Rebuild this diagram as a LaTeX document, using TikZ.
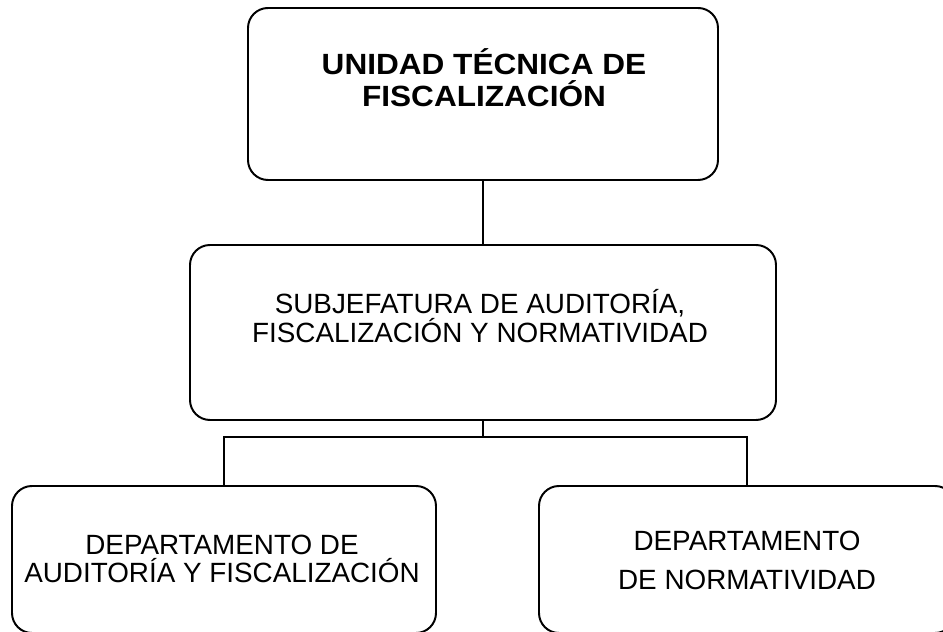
\documentclass[tikz,border=0pt]{standalone}
\usepackage{fontspec}
\setmainfont{Liberation Sans}
\newfontfamily\widefont[FakeStretch=1.08]{Liberation Sans}
\usetikzlibrary{positioning}

\begin{document}
\begin{tikzpicture}
\tikzset{unitbox/.style={draw=black,line width=1.4pt,rounded corners=0.5cm},
  unittext/.style={align=center,anchor=base,inner sep=0pt}}
\useasboundingbox (0,0) rectangle (23.575,15.8);
% boxes
\node[unitbox,minimum width=11.75cm,minimum height=4.3cm] (utf) at (12.075,13.45) {};
\node[unitbox,minimum width=14.65cm,minimum height=4.375cm] (sub) at (12.075,7.4875) {};
\node[unitbox,minimum width=10.6cm,minimum height=3.675cm] (daf) at (5.6,1.8125) {};
\node[unitbox,minimum width=10.4cm,minimum height=3.675cm] (dn) at (18.675,1.8125) {};
% texts
\node[unittext,font=\widefont\fontsize{20.8}{23.4}\selectfont\bfseries] (utftext) at (12.1,13.125) {UNIDAD TÉCNICA DE\\FISCALIZACIÓN};
\node[unittext,font=\fontsize{19.8}{21.3}\selectfont] (subtext) at (12.0,7.225) {SUBJEFATURA DE AUDITORÍA,\\FISCALIZACIÓN Y NORMATIVIDAD};
\node[unittext,font=\fontsize{19.8}{20.6}\selectfont] (daftext) at (5.55,1.225) {DEPARTAMENTO DE\\AUDITORÍA Y FISCALIZACIÓN};
\node[unittext,font=\fontsize{19.8}{28.4}\selectfont] (dntext) at (18.675,1.05) {DEPARTAMENTO\\DE NORMATIVIDAD};

\coordinate (bar) at (12.075,4.875);
\draw[line width=1.4pt] (utf.south) -- (sub.north);
\draw[line width=1.4pt] (sub.south) -- (bar);
\draw[line width=1.4pt] (daf.north) |- (bar) -| (dn.north);

\end{tikzpicture}
\end{document}
